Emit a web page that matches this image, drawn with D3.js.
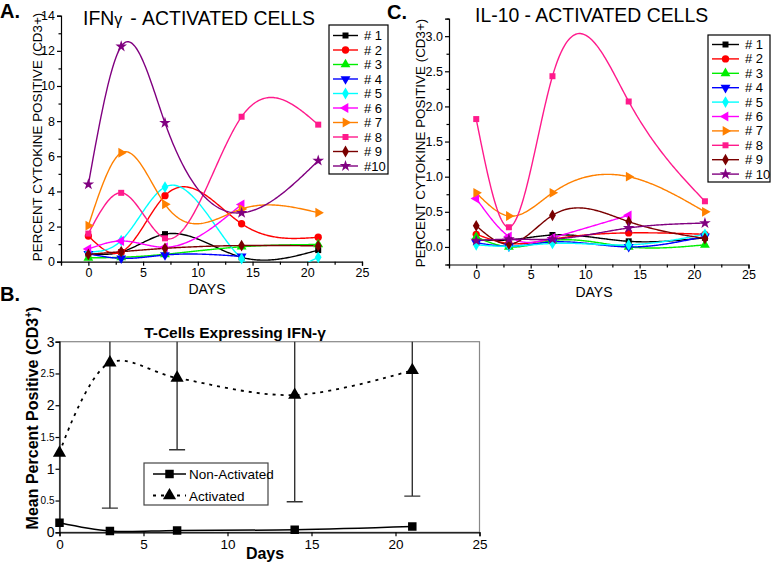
<!DOCTYPE html>
<html><head><meta charset="utf-8">
<script src="https://cdn.jsdelivr.net/npm/d3@7"></script>
<style>
body{margin:0;background:#fff;}
svg{font-family:"Liberation Sans",Arial,sans-serif;}
</style></head>
<body><svg id="c" width="773" height="566"></svg>
<script>
// ---------- DATA ----------
const days = [0, 3, 7, 14, 21];
const seriesLabelsA = ["# 1","# 2","# 3","# 4","# 5","# 6","# 7","# 8","# 9","#10"];
const seriesLabelsC = ["# 1","# 2","# 3","# 4","# 5","# 6","# 7","# 8","# 9","# 10"];
// Panel A: IFN-gamma, activated cells (percent positive)
const ifn1  = [0.45, 0.55, 1.57, 0.25, 0.66];
const ifn2  = [1.46, 0.55, 3.76, 2.16, 1.39];
const ifn3  = [0.22, 0.25, 0.42, 0.85, 0.98];
const ifn4  = [0.45, 0.19, 0.38, 0.30, null];
const ifn5  = [0.55, 1.20, 4.25, 0.17, 0.25];
const ifn6  = [0.72, 1.18, 0.82, 3.26, null];
const ifn7  = [2.05, 6.20, 3.27, 3.00, 2.79];
const ifn8  = [1.60, 3.92, 1.33, 8.25, 7.80];
const ifn9  = [0.42, 0.57, 0.76, 0.92, 0.90];
const ifn10 = [4.40, 12.25, 7.90, 2.78, 5.75];
// Panel C: IL-10, activated cells (percent positive)
const il1  = [0.10, 0.10, 0.17, 0.08, 0.13];
const il2  = [0.18, 0.05, 0.11, 0.20, 0.18];
const il3  = [0.14, 0.00, 0.09, 0.00, 0.03];
const il4  = [0.06, 0.01, 0.07, 0.00, 0.15];
const il5  = [0.03, 0.01, 0.05, 0.03, 0.18];
const il6  = [0.69, 0.15, 0.13, 0.45, null];
const il7  = [0.77, 0.44, 0.77, 1.00, 0.50];
const il8  = [1.82, 0.28, 2.43, 2.07, 0.65];
const il9  = [0.30, 0.04, 0.45, 0.36, 0.12];
const il10 = [0.09, 0.11, 0.11, 0.27, 0.34];
// Panel B: mean percent positive
const nonActivatedMean = [0.15, 0.02, 0.03, 0.04, 0.09];
const activatedMean    = [1.25, 2.67, 2.43, 2.16, 2.55];
const activatedErr     = [null, 2.29, 1.13, 1.68, 1.98];
const legendB = ["Non-Activated", "Activated"];

// ---------- STYLE ----------
const colors = ["#000000","#ff0000","#00ee00","#0000ff","#00ffff","#ff00ff","#ff8000","#ff1a8c","#7a0000","#800080"];
const tri = d3.symbolTriangle;
const shapes = [
  {t:d3.symbolSquare,s:36,r:0},{t:d3.symbolCircle,s:42,r:0},{t:tri,s:42,r:0},{t:tri,s:42,r:180},
  {t:d3.symbolDiamond,s:40,r:0},{t:tri,s:42,r:-90},{t:tri,s:42,r:90},{t:d3.symbolSquare,s:36,r:0},
  {t:d3.symbolDiamond,s:40,r:0},{t:d3.symbolStar,s:42,r:0}
];

const svg = d3.select("#c");
const defs = svg.append("defs");

function natSpline(xs, ys){
  const n = xs.length;
  if(n < 3) return x => ys[0] + (ys[1]-ys[0])*(x-xs[0])/(xs[1]-xs[0]);
  const h=[], a=[], b=[], c=[], d=[];
  for(let i=0;i<n-1;i++) h.push(xs[i+1]-xs[i]);
  const M = new Array(n).fill(0);
  const m = n-2;
  for(let i=1;i<=m;i++){
    a.push(h[i-1]); b.push(2*(h[i-1]+h[i])); c.push(h[i]);
    d.push(6*((ys[i+1]-ys[i])/h[i] - (ys[i]-ys[i-1])/h[i-1]));
  }
  for(let i=1;i<m;i++){ const w=a[i]/b[i-1]; b[i]-=w*c[i-1]; d[i]-=w*d[i-1]; }
  const sol = new Array(m);
  sol[m-1]=d[m-1]/b[m-1];
  for(let i=m-2;i>=0;i--) sol[i]=(d[i]-c[i]*sol[i+1])/b[i];
  for(let i=0;i<m;i++) M[i+1]=sol[i];
  return x => {
    let i = 0; while(i < n-2 && x > xs[i+1]) i++;
    const t1 = xs[i+1]-x, t0 = x-xs[i], hi=h[i];
    return M[i]*t1*t1*t1/(6*hi) + M[i+1]*t0*t0*t0/(6*hi)
      + (ys[i]/hi - M[i]*hi/6)*t1 + (ys[i+1]/hi - M[i+1]*hi/6)*t0;
  };
}
function splinePoints(vals){
  const pts = days.map((d,i)=>[d,vals[i]]).filter(p=>p[1]!==null);
  const f = natSpline(pts.map(p=>p[0]), pts.map(p=>p[1]));
  const out=[]; const x0=pts[0][0], x1=pts[pts.length-1][0];
  for(let k=0;k<=200;k++){ const x=x0+(x1-x0)*k/200; out.push([x,f(x)]); }
  return {pts, curve: out};
}
function marker(g, idx, x, y, fill){
  const sh = shapes[idx];
  g.append("path").attr("d", d3.symbol(sh.t, sh.s)())
    .attr("transform", `translate(${x},${y}) rotate(${sh.r})`)
    .attr("fill", fill || colors[idx]).attr("stroke","none");
}
function styleAxis(g, fs){
  g.select(".domain").attr("stroke","#000").attr("stroke-width",1.2);
  g.selectAll(".tick line").attr("stroke","#000").attr("stroke-width",1.2);
  g.selectAll(".tick text").attr("font-size",fs).attr("fill","#000").attr("font-family","Liberation Sans, Arial, sans-serif");
}

function multiPanel(opts){
  const {id, x, y, clipY, series, labels, yMajor, yMinor, yFmt, legend, title, titleX, titleY, titleSize, ylabX, ylabY, daysX, daysY} = opts;
  const g = svg.append("g");
  const xAxisY = y.range()[0];
  const xAx = g.append("g").attr("transform",`translate(0,${xAxisY})`)
    .call(d3.axisBottom(x).tickValues([0,5,10,15,20,25]).tickSize(4).tickPadding(2).tickFormat(d3.format("d")));
  styleAxis(xAx, 12.5);
  const xMin = g.append("g").attr("transform",`translate(0,${xAxisY})`)
    .call(d3.axisBottom(x).tickValues([-2.5,2.5,7.5,12.5,17.5,22.5]).tickSize(3).tickFormat(""));
  styleAxis(xMin, 12.5); xMin.select(".domain").remove();
  const yAx = g.append("g").attr("transform",`translate(${x.range()[0]},0)`)
    .call(d3.axisLeft(y).tickValues(yMajor).tickSize(4).tickPadding(2).tickFormat(yFmt));
  styleAxis(yAx, 12.5);
  const yMi = g.append("g").attr("transform",`translate(${x.range()[0]},0)`)
    .call(d3.axisLeft(y).tickValues(yMinor).tickSize(2.5).tickFormat(""));
  styleAxis(yMi, 12.5); yMi.select(".domain").remove();
  const top = y(clipY[1]), bot = y(clipY[0]);
  defs.append("clipPath").attr("id",id).append("rect")
    .attr("x",x.range()[0]).attr("y",top-10).attr("width",x.range()[1]-x.range()[0]).attr("height",bot-top+10);
  const pg = g.append("g").attr("clip-path",`url(#${id})`);
  const line = d3.line().x(d=>x(d[0])).y(d=>y(d[1]));
  series.forEach((vals,i)=>{
    const sp = splinePoints(vals);
    pg.append("path").attr("d", line(sp.curve)).attr("fill","none")
      .attr("stroke", colors[i]).attr("stroke-width",1.4);
  });
  series.forEach((vals,i)=>{
    const sp = splinePoints(vals);
    sp.pts.forEach(p=>marker(g, i, x(p[0]), y(p[1])));
  });
  g.append("text").attr("x",daysX).attr("y",daysY).attr("text-anchor","middle")
    .attr("font-size",14).text("DAYS");
  g.append("text").attr("transform",`translate(${ylabX},${ylabY}) rotate(-90)`)
    .attr("text-anchor","middle").attr("font-size",13.4).text("PERCENT CYTOKINE POSITIVE (CD3+)");
  g.append("text").attr("x",titleX).attr("y",titleY).attr("font-size",titleSize).html(title);
  const L = legend;
  g.append("rect").attr("x",L.x).attr("y",L.y).attr("width",L.w).attr("height",L.h)
    .attr("fill","#fff").attr("stroke","#000").attr("stroke-width",1.2);
  labels.forEach((lab,i)=>{
    const ry = L.y + L.first + i*L.step;
    g.append("line").attr("x1",L.x+4).attr("x2",L.x+4+L.lw).attr("y1",ry).attr("y2",ry)
      .attr("stroke",colors[i]).attr("stroke-width",1.4);
    marker(g, i, L.x+4+L.lw/2, ry);
    g.append("text").attr("x",L.x+L.lw+10).attr("y",ry+4.5).attr("font-size",13).text(lab);
  });
}

// Panel A
multiPanel({
  id: "clipA",
  x: d3.scaleLinear([-2.5,25],[61,362]),
  y: d3.scaleLinear([0,14],[261.7,15.7]),
  clipY: [0,14],
  series: [ifn1,ifn2,ifn3,ifn4,ifn5,ifn6,ifn7,ifn8,ifn9,ifn10],
  labels: seriesLabelsA,
  yMajor: d3.range(0,15,2), yMinor: d3.range(1,14,2), yFmt: d3.format("d"),
  legend: {x:329, y:25, w:59, h:149, first:10.5, step:14.5, lw:25},
  title: 'IFN<tspan font-size="16">γ</tspan><tspan dx="8">- ACTIVATED CELLS</tspan>', titleX:83, titleY:25, titleSize:19.4,
  ylabX: 42, ylabY: 137, daysX: 207, daysY: 294
});
// Panel C
multiPanel({
  id: "clipC",
  x: d3.scaleLinear([-2.5,25],[449,748.5]),
  y: d3.scaleLinear([-0.25,3.25],[264.5,18.6]),
  clipY: [-0.25,3.25],
  series: [il1,il2,il3,il4,il5,il6,il7,il8,il9,il10],
  labels: seriesLabelsC,
  yMajor: d3.range(0,3.01,0.5), yMinor: [-0.25,0.25,0.75,1.25,1.75,2.25,2.75,3.25], yFmt: d3.format(".1f"),
  legend: {x:708, y:35, w:62, h:147, first:9.5, step:14.4, lw:27},
  title: 'IL-10 - ACTIVATED CELLS', titleX:475, titleY:22, titleSize:19.4,
  ylabX: 425, ylabY: 143, daysX: 594, daysY: 297
});

// Panel labels
svg.append("text").attr("x",0).attr("y",18).attr("font-size",20).attr("font-weight","bold").text("A.");
svg.append("text").attr("x",387).attr("y",19).attr("font-size",20).attr("font-weight","bold").text("C.");
svg.append("text").attr("x",0).attr("y",301).attr("font-size",20).attr("font-weight","bold").text("B.");

// Panel B
(function(){
  const x = d3.scaleLinear([0,25],[59.5,479.5]);
  const y = d3.scaleLinear([0,3],[532.3,341.7]);
  const g = svg.append("g");
  g.append("rect").attr("x",x(0)).attr("y",y(3)).attr("width",x(25)-x(0)).attr("height",y(0)-y(3))
    .attr("fill","none").attr("stroke","#888").attr("stroke-width",1.2);
  const xa = g.append("g").attr("transform",`translate(0,${y(0)})`)
    .call(d3.axisBottom(x).tickValues([0,5,10,15,20,25]).tickSize(4).tickPadding(3).tickFormat(d3.format("d")));
  styleAxis(xa, 13.5);
  const ya = g.append("g").attr("transform",`translate(${x(0)},0)`)
    .call(d3.axisLeft(y).tickValues([0,0.5,1,1.5,2,2.5,3]).tickSize(4).tickPadding(1).tickFormat(d=>d3.format("")(d)));
  styleAxis(ya, 14);
  ya.selectAll(".tick text").filter(d=>d%1!==0).attr("font-size",10);
  defs.append("clipPath").attr("id","clipB").append("rect")
    .attr("x",x(0)-20).attr("y",y(3)).attr("width",x(25)-x(0)+40).attr("height",y(0)-y(3)+20);
  const cg = g.append("g").attr("clip-path","url(#clipB)");
  days.forEach((d,i)=>{
    const e = activatedErr[i]; if(e===null) return;
    const m = activatedMean[i];
    cg.append("line").attr("x1",x(d)).attr("x2",x(d)).attr("y1",y(m-e)).attr("y2",y(m+e))
      .attr("stroke","#333").attr("stroke-width",1.4);
    cg.append("line").attr("x1",x(d)-8).attr("x2",x(d)+8).attr("y1",y(m-e)).attr("y2",y(m-e))
      .attr("stroke","#333").attr("stroke-width",1.4);
  });
  const line = d3.line().x((d,i)=>x(days[i])).y(d=>y(d)).curve(d3.curveCatmullRom.alpha(0.5));
  cg.append("path").attr("d",line(activatedMean)).attr("fill","none").attr("stroke","#000")
    .attr("stroke-width",1.8).attr("stroke-dasharray","3,5");
  cg.append("path").attr("d",line(nonActivatedMean)).attr("fill","none").attr("stroke","#000")
    .attr("stroke-width",1.5);
  const sq = d3.symbol(d3.symbolSquare, 72)();
  const tr = d3.symbol(d3.symbolTriangle, 75)();
  days.forEach((d,i)=>{
    cg.append("path").attr("d",sq).attr("transform",`translate(${x(d)},${y(nonActivatedMean[i])})`);
    cg.append("path").attr("d",tr).attr("transform",`translate(${x(d)},${y(activatedMean[i])})`);
  });
  g.append("text").attr("x",235).attr("y",338).attr("text-anchor","middle").attr("font-size",15.5)
    .attr("font-weight","bold").text("T-Cells Expressing IFN-γ");
  g.append("text").attr("x",265).attr("y",559).attr("text-anchor","middle").attr("font-size",16)
    .attr("font-weight","bold").text("Days");
  g.append("text").attr("transform",`translate(38,418) rotate(-90)`).attr("text-anchor","middle")
    .attr("font-size",16).attr("font-weight","bold")
    .html('Mean Percent Positive (CD3<tspan dy="-6" font-size="10">+</tspan><tspan dy="6">)</tspan>');
  g.append("rect").attr("x",144).attr("y",463).attr("width",124).attr("height",42)
    .attr("fill","#fff").attr("stroke","#444").attr("stroke-width",1.2);
  const rows = [474, 495.5];
  g.append("line").attr("x1",153).attr("x2",186).attr("y1",rows[0]).attr("y2",rows[0]).attr("stroke","#000").attr("stroke-width",1.5);
  g.append("path").attr("d",sq).attr("transform",`translate(169.5,${rows[0]})`);
  g.append("line").attr("x1",153).attr("x2",186).attr("y1",rows[1]).attr("y2",rows[1]).attr("stroke","#000").attr("stroke-width",1.8).attr("stroke-dasharray","3,5");
  g.append("path").attr("d",tr).attr("transform",`translate(169.5,${rows[1]})`);
  legendB.forEach((t,i)=>g.append("text").attr("x",189).attr("y",rows[i]+5).attr("font-size",13.5).text(t));
})();
</script></body></html>
